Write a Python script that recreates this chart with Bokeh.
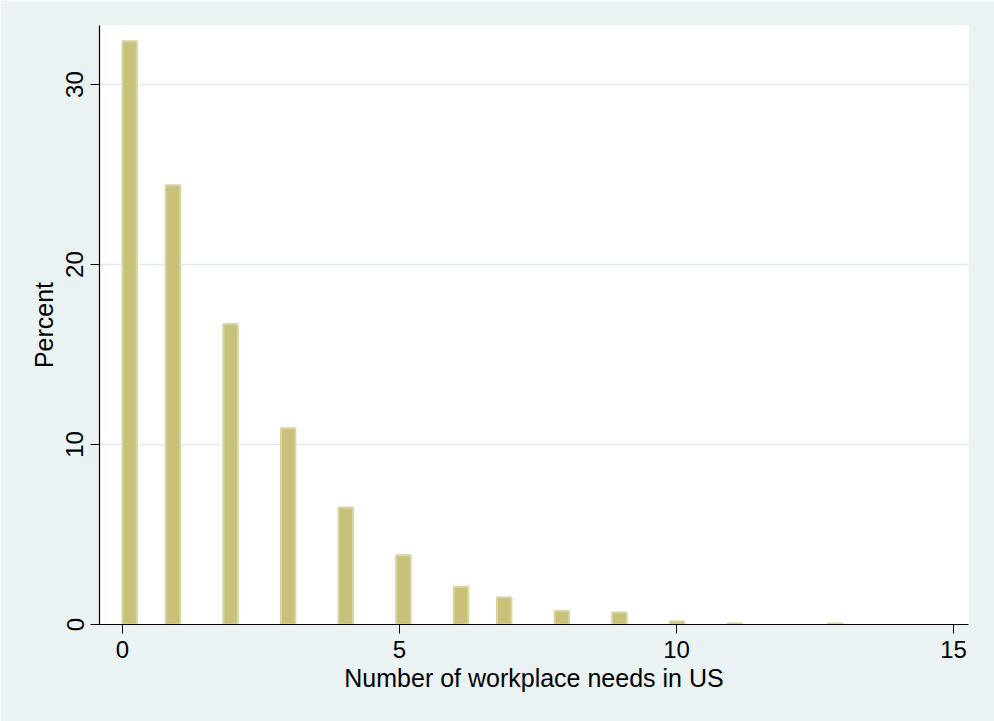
import numpy as np
from bokeh.plotting import figure
from bokeh.models import Range1d, FixedTicker, ColumnDataSource
from bokeh.embed import file_html
from bokeh.resources import INLINE

# Data: number of workplace needs (discrete value) and percent of respondents
values = [0, 1, 2, 3, 4, 5, 6, 7, 8, 9, 10, 11, 13]
percent = [32.4, 24.4, 16.7, 10.9, 6.5, 3.85, 2.1, 1.5, 0.75, 0.67, 0.17, 0.06, 0.06]
x_ticks = [0, 5, 10, 15]
y_ticks = [0, 10, 20, 30]

# Stata-style histogram: 50 bins over the range 0..13
n_bins = 50
bin_width = (max(values) - min(values)) / n_bins
v = np.array(values, dtype=float)
bin_idx = np.minimum(np.floor(v / bin_width), n_bins - 1)
left = bin_idx * bin_width
right = left + bin_width

src = ColumnDataSource(dict(left=left, right=right, top=percent, bottom=[0] * len(percent)))

BG = "#EAF2F3"
FONT = "Liberation Sans"

p = figure(width=994, height=721, output_backend="svg", toolbar_location=None,
           x_range=Range1d(-0.415, 15.27), y_range=Range1d(0, 33.28),
           min_border_left=99, min_border_right=26, min_border_top=25, min_border_bottom=97)
p.background_fill_color = "white"
p.border_fill_color = BG
p.outline_line_color = None

p.quad(left="left", right="right", top="top", bottom="bottom", source=src,
       fill_color="#C8C17A", line_color="#D9D3A0", line_width=2)

# grid
p.xgrid.grid_line_color = None
p.ygrid.ticker = FixedTicker(ticks=[10, 20, 30])
p.ygrid.grid_line_color = "#E2EBED"
p.ygrid.grid_line_width = 1.5

for ax in (p.xaxis[0], p.yaxis[0]):
    ax.axis_line_color = "black"
    ax.axis_line_width = 1.2
    ax.major_tick_line_color = "black"
    ax.major_tick_out = 9
    ax.major_tick_in = 0
    ax.minor_tick_line_color = None
    ax.major_label_text_font = FONT
    ax.major_label_text_font_size = "24px"
    ax.major_label_text_color = "black"
    ax.axis_label_text_font = FONT
    ax.axis_label_text_font_size = "25px"
    ax.axis_label_text_font_style = "normal"
    ax.axis_label_text_color = "black"

p.xaxis.ticker = FixedTicker(ticks=x_ticks)
p.yaxis.ticker = FixedTicker(ticks=y_ticks)
p.xaxis.axis_label = "Number of workplace needs in US"
p.yaxis.axis_label = "Percent"
p.xaxis.major_label_standoff = 7
p.xaxis.axis_label_standoff = 3
p.yaxis.major_label_orientation = "vertical"
p.yaxis.major_label_standoff = 7
p.yaxis.axis_label_standoff = 6

open("out.html", "w").write(file_html(p, INLINE))
